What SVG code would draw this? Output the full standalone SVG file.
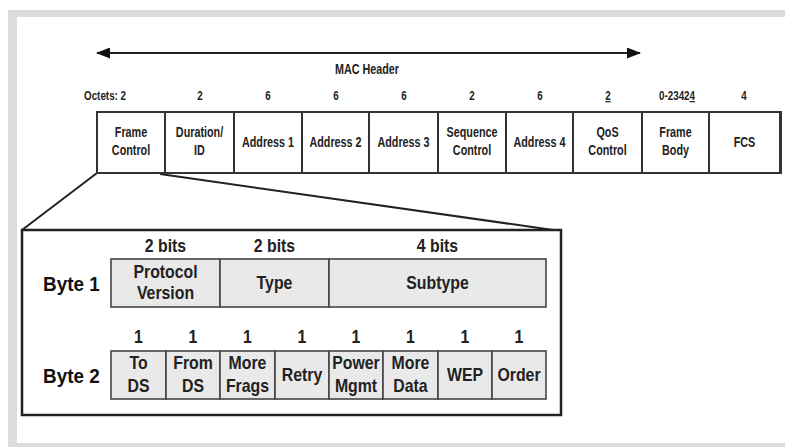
<svg xmlns="http://www.w3.org/2000/svg" width="785" height="447" viewBox="0 0 785 447">
<defs>
<marker id="ah" viewBox="0 0 14 11" refX="13" refY="5.5" markerWidth="14" markerHeight="11" markerUnits="userSpaceOnUse" orient="auto-start-reverse">
<path d="M0,0 L14,5.5 L0,11 Z" fill="#111"/>
</marker>
</defs>
<style>
text{font-family:"Liberation Sans",Arial,sans-serif;font-weight:bold;fill:#222}
.h{font-size:14px;text-anchor:middle}
.o{font-size:12px;text-anchor:middle}
.t{font-size:18px;text-anchor:middle}
.b{font-size:21px;fill:#111}
.hc{fill:#fff;stroke:#333;stroke-width:2}
.fc{fill:#e9e9e9;stroke:#444;stroke-width:1.6}
.ln{fill:none;stroke:#222;stroke-width:2}
</style>
<rect x="8" y="10" width="777" height="437" fill="#dcdcdc"/>
<rect x="17" y="17" width="768" height="426" fill="#fff"/>

<g id="connectors">
<line class="ln" x1="97" y1="53" x2="640" y2="53" marker-start="url(#ah)" marker-end="url(#ah)"/>
<line class="ln" x1="97" y1="173" x2="22" y2="230"/>
<line class="ln" x1="160" y1="174" x2="553" y2="230" stroke-width="2.5"/>
</g>

<text class="h" transform="translate(367,74) scale(0.77,1)">MAC Header</text>

<g id="octets">
<text class="o" transform="translate(84,100) scale(0.82,1)" style="text-anchor:start">Octets: 2</text>
<text class="o" transform="translate(200,100) scale(0.82,1)">2</text>
<text class="o" transform="translate(268,100) scale(0.82,1)">6</text>
<text class="o" transform="translate(336,100) scale(0.82,1)">6</text>
<text class="o" transform="translate(404,100) scale(0.82,1)">6</text>
<text class="o" transform="translate(472,100) scale(0.82,1)">2</text>
<text class="o" transform="translate(540,100) scale(0.82,1)">6</text>
<text class="o" transform="translate(608,100) scale(0.82,1)" text-decoration="underline">2</text>
<text class="o" transform="translate(677,100) scale(0.82,1)">0-2342<tspan text-decoration="underline">4</tspan></text>
<text class="o" transform="translate(744,100) scale(0.82,1)">4</text>
</g>

<g id="mac-header">
<g id="n-frame-control"><rect class="hc" x="97" y="112" width="68" height="61"/><text class="h" transform="translate(131,137) scale(0.77,1)">Frame</text><text class="h" transform="translate(131,155) scale(0.77,1)">Control</text></g>
<g id="n-duration"><rect class="hc" x="165" y="112" width="69" height="61"/><text class="h" transform="translate(199.5,137) scale(0.77,1)">Duration/</text><text class="h" transform="translate(199.5,155) scale(0.77,1)">ID</text></g>
<g id="n-addr1"><rect class="hc" x="234" y="112" width="68" height="61"/><text class="h" transform="translate(268,147) scale(0.77,1)">Address 1</text></g>
<g id="n-addr2"><rect class="hc" x="302" y="112" width="67" height="61"/><text class="h" transform="translate(335.5,147) scale(0.77,1)">Address 2</text></g>
<g id="n-addr3"><rect class="hc" x="369" y="112" width="69" height="61"/><text class="h" transform="translate(403.5,147) scale(0.77,1)">Address 3</text></g>
<g id="n-seq"><rect class="hc" x="438" y="112" width="68" height="61"/><text class="h" transform="translate(472,137) scale(0.77,1)">Sequence</text><text class="h" transform="translate(472,155) scale(0.77,1)">Control</text></g>
<g id="n-addr4"><rect class="hc" x="506" y="112" width="67" height="61"/><text class="h" transform="translate(539.5,147) scale(0.77,1)">Address 4</text></g>
<g id="n-qos"><rect class="hc" x="573" y="112" width="69" height="61"/><text class="h" transform="translate(607.5,137) scale(0.77,1)">QoS</text><text class="h" transform="translate(607.5,155) scale(0.77,1)">Control</text></g>
<g id="n-body"><rect class="hc" x="642" y="112" width="67" height="61"/><text class="h" transform="translate(675.5,137) scale(0.77,1)">Frame</text><text class="h" transform="translate(675.5,155) scale(0.77,1)">Body</text></g>
<g id="n-fcs"><rect class="hc" x="709" y="112" width="71" height="61"/><text class="h" transform="translate(744.5,147) scale(0.77,1)">FCS</text></g>
<line x1="780.5" y1="111" x2="780.5" y2="174" stroke="#333" stroke-width="3"/>
</g>

<g id="frame-control-detail">
<rect x="22" y="230" width="539" height="185" fill="#fff" stroke="#222" stroke-width="2.5"/>
<text class="b" transform="translate(43,291) scale(0.9,1)">Byte 1</text>
<text class="b" transform="translate(43,383) scale(0.9,1)">Byte 2</text>
<text class="t" transform="translate(165.5,252) scale(0.88,1)">2 bits</text>
<text class="t" transform="translate(274.5,252) scale(0.88,1)">2 bits</text>
<text class="t" transform="translate(437.5,252) scale(0.88,1)">4 bits</text>
<g id="n-protocol"><rect class="fc" x="111" y="259" width="109" height="48"/><text class="t" transform="translate(165.5,278) scale(0.88,1)">Protocol</text><text class="t" transform="translate(165.5,299) scale(0.88,1)">Version</text></g>
<g id="n-type"><rect class="fc" x="220" y="259" width="109" height="48"/><text class="t" transform="translate(274.5,289) scale(0.88,1)">Type</text></g>
<g id="n-subtype"><rect class="fc" x="329" y="259" width="217" height="48"/><text class="t" transform="translate(437.5,289) scale(0.88,1)">Subtype</text></g>

<text class="t" transform="translate(138.5,343) scale(0.88,1)">1</text>
<text class="t" transform="translate(193,343) scale(0.88,1)">1</text>
<text class="t" transform="translate(247.5,343) scale(0.88,1)">1</text>
<text class="t" transform="translate(302,343) scale(0.88,1)">1</text>
<text class="t" transform="translate(356,343) scale(0.88,1)">1</text>
<text class="t" transform="translate(410.5,343) scale(0.88,1)">1</text>
<text class="t" transform="translate(465,343) scale(0.88,1)">1</text>
<text class="t" transform="translate(519,343) scale(0.88,1)">1</text>

<g id="n-tods"><rect class="fc" x="111" y="351" width="55" height="48"/><text class="t" transform="translate(138.5,369) scale(0.88,1)">To</text><text class="t" transform="translate(138.5,392) scale(0.88,1)">DS</text></g>
<g id="n-fromds"><rect class="fc" x="166" y="351" width="54" height="48"/><text class="t" transform="translate(193,369) scale(0.88,1)">From</text><text class="t" transform="translate(193,392) scale(0.88,1)">DS</text></g>
<g id="n-morefrags"><rect class="fc" x="220" y="351" width="55" height="48"/><text class="t" transform="translate(247.5,369) scale(0.88,1)">More</text><text class="t" transform="translate(247.5,392) scale(0.88,1)">Frags</text></g>
<g id="n-retry"><rect class="fc" x="275" y="351" width="54" height="48"/><text class="t" transform="translate(302,381) scale(0.88,1)">Retry</text></g>
<g id="n-power"><rect class="fc" x="329" y="351" width="54" height="48"/><text class="t" transform="translate(356,369) scale(0.88,1)">Power</text><text class="t" transform="translate(356,392) scale(0.88,1)">Mgmt</text></g>
<g id="n-moredata"><rect class="fc" x="383" y="351" width="55" height="48"/><text class="t" transform="translate(410.5,369) scale(0.88,1)">More</text><text class="t" transform="translate(410.5,392) scale(0.88,1)">Data</text></g>
<g id="n-wep"><rect class="fc" x="438" y="351" width="54" height="48"/><text class="t" transform="translate(465,381) scale(0.88,1)">WEP</text></g>
<g id="n-order"><rect class="fc" x="492" y="351" width="54" height="48"/><text class="t" transform="translate(519,381) scale(0.88,1)">Order</text></g>
</g>
</svg>
